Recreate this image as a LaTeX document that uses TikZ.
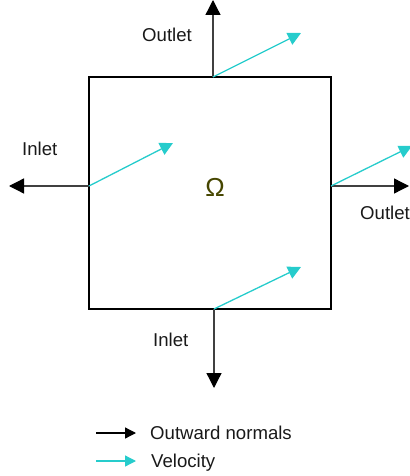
\documentclass[tikz,border=0pt]{standalone}
\usepackage{fontspec}
\setmainfont{Liberation Sans}
\usetikzlibrary{arrows.meta}
\definecolor{velcyan}{RGB}{38,204,204}
\definecolor{omegacol}{RGB}{70,70,0}
\tikzset{
  normalarrow/.style={draw=black!75, line width=1.3bp, -{Triangle[length=15bp,width=15bp,color=black]}},
  velarrow/.style={draw=velcyan, line width=1.3bp, -{Triangle[length=13bp,width=13bp]}},
  legblack/.style={draw=black, line width=1.3bp, -{Triangle[length=11bp,width=11bp]}},
  legcyan/.style={draw=velcyan, line width=1.3bp, -{Triangle[length=11bp,width=11bp]}},
  lbl/.style={inner sep=0pt, anchor=base west, font=\fontsize{18.6bp}{22bp}\selectfont, text=black!90},
}
\begin{document}
\begin{tikzpicture}[x=1bp,y=-1bp]
\useasboundingbox (0,0) rectangle (409,476);
% domain
\node[draw, line width=2.4bp, minimum width=242bp, minimum height=232bp, inner sep=0pt] (dom) at (210,193) {};
\node[inner sep=0pt, anchor=base, font=\fontsize{26bp}{30bp}\selectfont, text=omegacol] (omega) at (215,197) {Ω};
% boundary points
\coordinate (tp) at (213,77);
\coordinate (lp) at (89,186);
\coordinate (rp) at (331,186);
\coordinate (bp) at (214,309);
% normal tips
\coordinate (tn) at (213,0);
\coordinate (ln) at (9,186);
\coordinate (rn) at (409,186);
\coordinate (bn) at (214,388);
% velocity tips
\coordinate (tv) at (301,33);
\coordinate (lv) at (173,143);
\coordinate (rv) at (412,146);
\coordinate (bv) at (301,267);
\draw[normalarrow] (tp) -- (tn);
\draw[normalarrow] (lp) -- (ln);
\draw[normalarrow] (rp) -- (rn);
\draw[normalarrow] (bp) -- (bn);
\draw[velarrow] (tp) -- (tv);
\draw[velarrow] (lp) -- (lv);
\draw[velarrow] (rp) -- (rv);
\draw[velarrow] (bp) -- (bv);
% labels
\node[lbl] (outtop) at (142,42) {Outlet};
\node[lbl] (inleft) at (22,156) {Inlet};
\node[lbl] (outright) at (360,220) {Outlet};
\node[lbl] (inbottom) at (153,346) {Inlet};
% legend
\coordinate (l1a) at (96,433);
\coordinate (l1b) at (136,433);
\coordinate (l2a) at (96,461);
\coordinate (l2b) at (136,461);
\draw[legblack] (l1a) -- (l1b);
\draw[legcyan] (l2a) -- (l2b);
\node[lbl] (legn) at (150,439) {Outward normals};
\node[lbl] (legv) at (151,467) {Velocity};
\end{tikzpicture}
\end{document}
